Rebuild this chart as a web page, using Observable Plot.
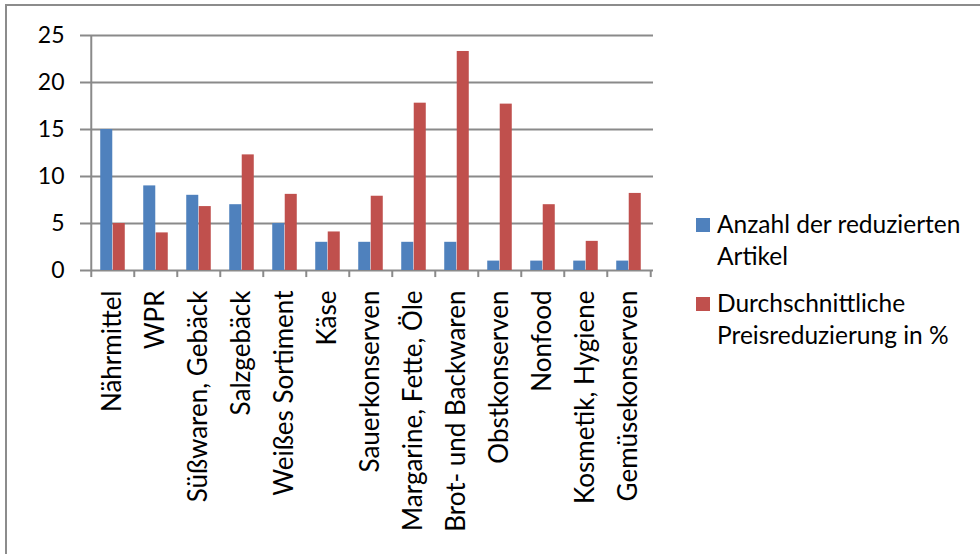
<!DOCTYPE html>
<html><head><meta charset="utf-8">
<script src="https://cdn.jsdelivr.net/npm/d3@7"></script>
<script src="https://cdn.jsdelivr.net/npm/@observablehq/plot@0.6"></script>
<style>
body{margin:0;background:#fff;}
#wrap{position:relative;width:980px;height:554px;overflow:hidden;font-family:Lato,"Open Sans",sans-serif;}
#frame{position:absolute;left:5px;top:4px;width:1200px;height:800px;border-left:2px solid #8c8c8c;border-top:2px solid #8c8c8c;box-sizing:border-box;}
#chart{position:absolute;left:0;top:0;}
#chart svg text{font-family:Lato,"Open Sans",sans-serif;fill:#000;}
#legend{position:absolute;left:696px;top:208px;font-size:24.5px;color:#000;line-height:32px;}
.item{position:relative;padding-left:21px;margin-bottom:15px;}
.sw{position:absolute;left:0;top:10px;width:14px;height:14px;}
</style></head>
<body><div id="wrap"><div id="frame"></div><div id="chart"></div><div id="legend"></div></div>
<script>
const categories = ["Nährmittel","WPR","Süßwaren, Gebäck","Salzgebäck","Weißes Sortiment","Käse","Sauerkonserven","Margarine, Fette, Öle","Brot- und Backwaren","Obstkonserven","Nonfood","Kosmetik, Hygiene","Gemüsekonserven"];
const anzahl = [15,9,8,7,5,3,3,3,3,1,1,1,1];
const preisreduzierung = [5,4,6.8,12.3,8.1,4.1,7.9,17.8,23.3,17.7,7,3.1,8.2];
const seriesNames = ["Anzahl der reduzierten Artikel","Durchschnittliche Preisreduzierung in %"];
const legendLines = [["Anzahl der reduzierten","Artikel"],["Durchschnittliche","Preisreduzierung in %"]];
const seriesColors = ["#4F81BD","#C0504D"];
const yTicks = [0,5,10,15,20,25];

const W = 980, H = 554, mL = 88, mR = 327, mT = 35, mB = 284;
const bw = (W - mL - mR) / categories.length;
const barW = bw * 0.2875;
const blue = categories.map((c,i)=>({c, v: anzahl[i]}));
const red = categories.map((c,i)=>({c, v: preisreduzierung[i]}));
const grid = "#8a8a8a";

const plot = Plot.plot({
  width: W, height: H, marginLeft: mL, marginRight: mR, marginTop: mT, marginBottom: mB,
  style:{fontFamily:"Lato, 'Open Sans', sans-serif", background:"transparent"},
  x:{type:"band", domain: categories, padding:0},
  y:{domain:[0,25]},
  marks:[
    Plot.ruleY(yTicks, {y: d=>d, stroke: grid, strokeWidth: 2, insetLeft: -8}),
    Plot.axisY({ticks: yTicks, tickSize: 0, tickPadding: 24, fontSize: 23, fill:"#000", label:null}),
    Plot.ruleX([categories[0]], {x: d=>d, dx: -bw/2, y1: 0, y2: 25, stroke: grid, strokeWidth: 2}),
    Plot.ruleX(categories, {x: d=>d, dx: -bw/2, y1: 0, y2: -0.75, stroke: grid, strokeWidth: 2}),
    Plot.ruleX([categories[categories.length-1]], {x: d=>d, dx: bw/2, y1: 0, y2: -0.75, stroke: grid, strokeWidth: 2}),
    Plot.barY(blue, {x:"c", y:"v", fill: seriesColors[0], insetLeft: bw/2 - barW, insetRight: bw/2}),
    Plot.barY(red, {x:"c", y:"v", fill: seriesColors[1], insetLeft: bw/2, insetRight: bw/2 - barW}),
    Plot.axisX({tickSize:0, tickRotate:-90, tickPadding: 20, fontSize: 26, fill:"#000", label:null})
  ]
});
document.getElementById("chart").appendChild(plot);

const lg = document.getElementById("legend");
seriesNames.forEach((n,i)=>{
  const d = document.createElement("div"); d.className="item"; d.title = n;
  const s = document.createElement("span"); s.className="sw"; s.style.background = seriesColors[i];
  d.appendChild(s);
  legendLines[i].forEach(line=>{ const t = document.createElement("div"); t.textContent = line; d.appendChild(t); });
  lg.appendChild(d);
});
</script></body></html>
